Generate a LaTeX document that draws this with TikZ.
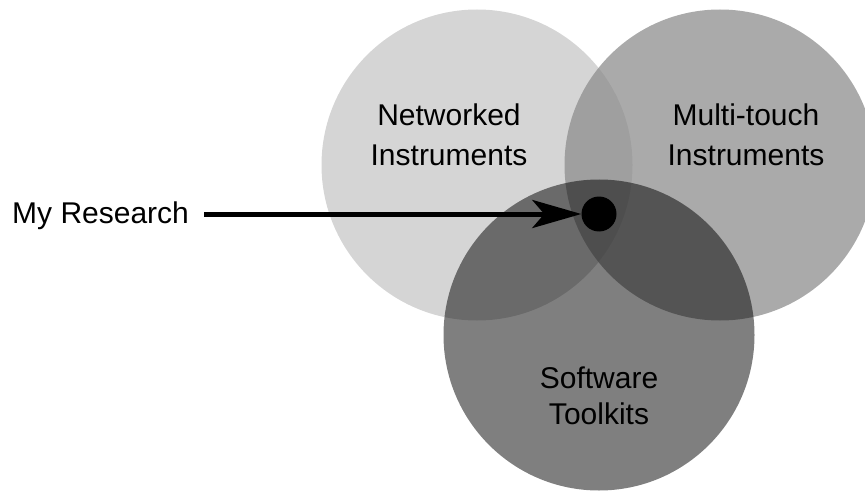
\documentclass[tikz,border=0pt]{standalone}
\usepackage{fontspec}
\setmainfont{Liberation Sans}
\usetikzlibrary{arrows.meta}

\begin{document}
\begin{tikzpicture}[x=1pt, y=-1pt]
\tikzstyle{area} = [circle, inner sep=0pt, minimum size=311pt, fill=black]
\tikzstyle{label} = [align=center, font=\fontsize{30}{40}\selectfont]
\tikzstyle{edge} = [-{Stealth[length=49pt, width=28pt, inset=12pt]}, line width=5pt]
\useasboundingbox (0, 0) rectangle (865, 492);
% -----------------------------------
% Circles
\node[area, fill opacity=0.165] (net) at (477, 165) {};
\node[area, fill=black!45, fill opacity=0.74] (touch) at (720, 165) {};
\node[area, fill opacity=0.5] (soft) at (599, 335) {};

\node[label] (netlab) at (449, 135) {Networked\\Instruments};
\node[label] (touchlab) at (746, 135) {Multi-touch\\Instruments};
\node[label, font=\fontsize{30}{36}\selectfont] (softlab) at (599, 396) {Software\\Toolkits};

% -----------------------------------
% Research
\node[circle, fill=black, inner sep=0pt, minimum size=35pt] (dot) at (599, 214) {};
\node[anchor=base west, inner sep=0pt, font=\fontsize{30}{36}\selectfont] (res) at (12, 223) {My Research};

\draw[edge, shorten <=15pt] (res.east |- dot.west)--(dot.west);
% -----------------------------------
\end{tikzpicture}
\end{document}
